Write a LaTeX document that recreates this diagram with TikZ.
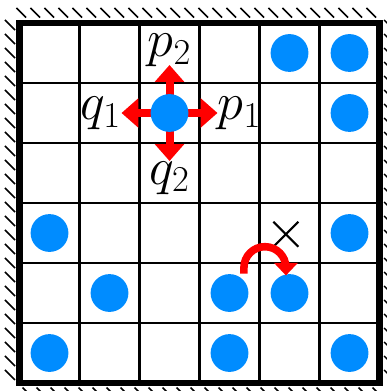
\documentclass[tikz,border=0pt]{standalone}
\usepackage{amsmath}
\usetikzlibrary{arrows.meta,positioning,shapes.misc,calc}
\definecolor{dotblue}{RGB}{0,140,255}
\tikzset{
  frame/.style={line width=3.3pt},
  gridline/.style={line width=1.4pt},
  hatch/.style={line width=0.7pt},
  dot/.style={circle,fill=dotblue,minimum size=0.63cm,inner sep=0pt},
  move/.style={red,line width=3.8pt,-{Triangle[width=13.5pt,length=8pt]}},
  hop/.style={red,line width=3.6pt,-{Triangle[width=11pt,length=6pt]}},
  lbl/.style={inner sep=0pt,font=\fontsize{26}{30}\selectfont},
  blocked/.style={cross out,draw,line width=1pt,minimum size=0.38cm,inner sep=0pt}
}
\begin{document}
\begin{tikzpicture}
\useasboundingbox (-0.325,-0.133) rectangle (6.108,6.383);

\draw[gridline] (0,0) grid (6,6);\draw[frame] (0,0) rectangle (6,6);
%%%%%%%%%%%%% walls
\foreach \i in {0,...,25} {\draw[hatch] (-0.05+\i*0.2333,6.25) -- ++(0.16,-0.16);}
\foreach \i in {0,...,25} {\draw[hatch] (-0.242,6.05-\i*0.2333) -- ++(0.167,-0.167);}
\foreach \i in {0,...,25} {\draw[hatch] (6.075,6.05-\i*0.2333) -- ++(0.167,-0.167);}
\foreach \i in {0,...,25} {\draw[hatch] (0.05+\i*0.2333,-0.075) -- ++(0.167,-0.167);}

%%%%%%%%%%%%% moves of the middle dot
\coordinate (c) at (2.5,4.5);
\coordinate (up) at (2.5,5.3);\coordinate (dn) at (2.5,3.7);
\coordinate (lt) at (1.7,4.5);\coordinate (rt) at (3.3,4.5);
\draw[move] (c) -- (up);\draw[move] (c) -- (dn);\draw[move] (c) -- (lt);\draw[move] (c) -- (rt);
\node[dot] (mid) at (c) {};
\node[lbl,above=-1pt of up] (p2) {$p_2$};\node[lbl,below=0pt of dn] (q2) {$q_2$};
\node[lbl,left=0pt of lt] (q1) {$q_1$};\node[lbl,right=0pt of rt] (p1) {$p_1$};

%%%%%%%%%%%%% other dots
\foreach \x/\y/\n in {4.5/5.5/a,5.5/5.5/b,5.5/4.5/c,0.5/2.5/d,5.5/2.5/e,1.5/1.5/f,0.5/0.5/g,3.5/0.5/h,5.5/0.5/k}
  {\node[dot] (\n) at (\x,\y) {};}
\node[dot] (hopA) at (3.5,1.5) {};\node[dot] (hopB) at (4.5,1.5) {};

%%%%%%%%%%%%% jump
\node[blocked] (no) at (4.44,2.48) {};
\draw[hop] ($(hopA.north)+(0.24,0)$) -- ++(0,0.1) arc[start angle=180,end angle=0,radius=0.35] -- ($(hopB.north)+(-0.06,-0.03)$);

\end{tikzpicture}
\end{document}
